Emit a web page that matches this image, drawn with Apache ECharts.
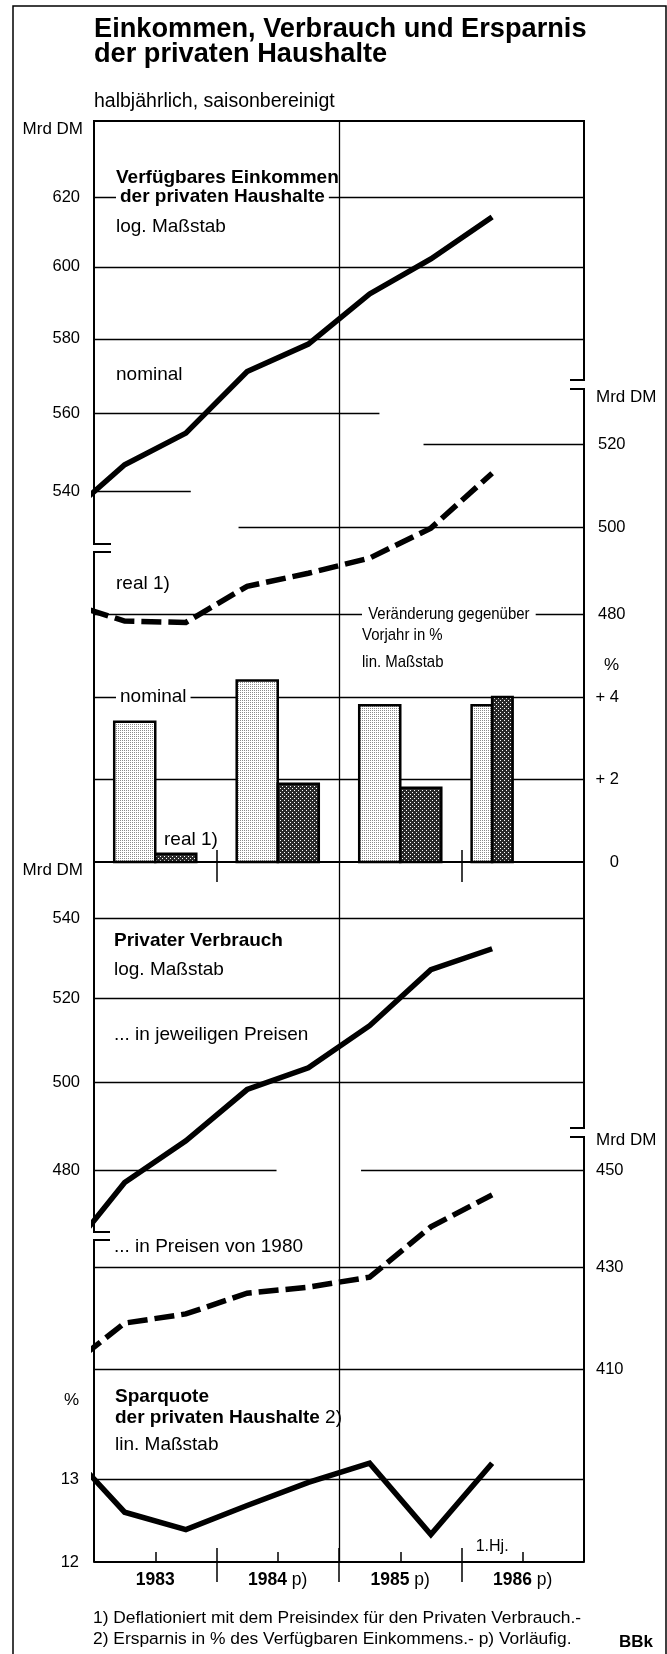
<!DOCTYPE html>
<html><head><meta charset="utf-8">
<script src="https://cdn.jsdelivr.net/npm/echarts@6/dist/echarts.min.js"></script>
<style>html,body{margin:0;padding:0;background:#fff}#chart{width:667px;height:1654px}</style>
</head><body><div id="chart"></div>
<script>
// ---------------- data ----------------
const halfYears = ['1982 2.Hj.','1983 1.Hj.','1983 2.Hj.','1984 1.Hj.','1984 2.Hj.','1985 1.Hj.','1985 2.Hj.','1986 1.Hj.'];
const halfYearPos = [1982.75,1983.25,1983.75,1984.25,1984.75,1985.25,1985.75,1986.25];
const incomeNominal = [533.0,546.7,554.9,571.2,578.6,592.4,602.2,614.2];
const incomeReal = [482.8,478.4,478.1,486.3,489.3,492.8,499.8,512.9];
const consumptionNominal = [460.5,477.2,486.6,498.4,503.5,513.5,527.1,532.3];
const consumptionReal = [409.6,418.9,420.7,424.8,426.0,428.0,438.2,444.8];
const savingRate = [13.4,12.6,12.39,12.68,12.96,13.19,12.33,13.19];

const changePeriods = ['1983','1984','1985','1986 1.Hj.'];
const changeStart = [1983,1984,1985,1986];
const changeEnd = [1984,1985,1986,1986.5];
const changeNominal = [3.4,4.4,3.8,3.8];
const changeReal = [0.2,1.9,1.8,4.0];

const yearLabels = ['1983','1984','1985','1986'];
const yearProvisional = [false,true,true,true];
const yearPos = [1983.5,1984.5,1985.5,1986.5];
const yearBounds = [1984,1985,1986];
const zeroLineTicks = [1984,1986];
const halfYearLabelPos = [1986.25];
const halfYearLabel = ['1.Hj.'];

const incNTicks = [540,560,580,600,620];
const incRTicks = [480,500,520];
const pctTicks = [0,2,4];
const conNTicks = [480,500,520,540];
const conRTicks = [410,430,450];
const sparTicks = [12,13];

// ---------------- layout ----------------
const FONT = '"Liberation Sans", Arial, Helvetica, sans-serif';
const GRID = {left: 94, right: 584, top: 121, bottom: 1562};
// pixel anchors of each panel's scale (two ticks each)
const ANCH = {
  incN: [620,197,540,491], incR: [520,444,480,614], pct: [4,697,0,862],
  conN: [540,918,480,1170], conR: [450,1170,410,1369], spar: [13,1479,12,1562]
};
// partial gridline extents (in years); others span the full width
const PARTIAL = {
  incN: {540:[1983,1983.79], 560:[1983,1985.33]},
  incR: {520:[1985.69,1987], 500:[1984.18,1987]},
  pct: {}, conN: {480:[1983,1984.49]}, conR: {450:[1985.18,1987]}, spar: {}
};

function logRange(a) {
  const [vA,pA,vB,pB] = a;
  const s = (Math.log(vA)-Math.log(vB))/(pB-pA);
  const at = p => Math.exp(Math.log(vA) - s*(p-pA));
  return {min: at(GRID.bottom), max: at(GRID.top)};
}
function linRange(a) {
  const [vA,pA,vB,pB] = a;
  const s = (vA-vB)/(pB-pA);
  const at = p => vA - s*(p-pA);
  return {min: at(GRID.bottom), max: at(GRID.top)};
}

function makePattern(size, bg, fg, cells) {
  const c = document.createElement('canvas'); c.width = size; c.height = size;
  const ctx = c.getContext('2d'); ctx.fillStyle = bg; ctx.fillRect(0,0,size,size);
  ctx.fillStyle = fg; cells.forEach(([x,y]) => ctx.fillRect(x,y,1,1));
  return {image: c, repeat: 'repeat'};
}
const patNominal = makePattern(2, '#ffffff', '#8a8a8a', [[0,0]]);
const patReal = makePattern(4, '#2a2a2a', '#ffffff', [[0,0],[2,2]]);

const chart = echarts.init(document.getElementById('chart'), null, {renderer: 'canvas'});

const tickLine = {color: '#000', width: 1.5};
const xBase = {type: 'value', min: 1983, max: 1987, position: 'bottom',
  splitLine: {show: false}, axisLine: {show: false, onZero: false},
  axisTick: {show: false}, axisLabel: {show: false}};

const xAxis = [
  Object.assign({}, xBase, {
    axisLine: {show: true, onZero: false, lineStyle: {color: '#000', width: 2}},
    axisTick: {show: true, inside: true, length: 10, customValues: yearPos, lineStyle: tickLine},
    axisLabel: {show: true, customValues: yearPos, margin: 9, color: '#000',
      formatter: v => { const i = yearPos.indexOf(v); return '{b|' + yearLabels[i] + '}' + (yearProvisional[i] ? '{n| p)}' : ''); },
      rich: {b: {fontFamily: FONT, fontSize: 17.5, fontWeight: 'bold', color: '#000'},
             n: {fontFamily: FONT, fontSize: 17.5, color: '#000'}}}
  }),
  Object.assign({}, xBase, {axisTick: {show: true, inside: true, length: 14, customValues: yearBounds, lineStyle: tickLine}}),
  Object.assign({}, xBase, {axisTick: {show: true, inside: false, length: 20, customValues: yearBounds, lineStyle: tickLine}}),
  Object.assign({}, xBase, {axisLabel: {show: true, inside: true, margin: 7, customValues: halfYearLabelPos,
    formatter: v => halfYearLabel[halfYearLabelPos.indexOf(v)], fontFamily: FONT, fontSize: 16, color: '#000'}}),
  Object.assign({}, xBase, {axisLine: {show: true, onZero: true, onZeroAxisIndex: 2, lineStyle: {color: '#000', width: 2}},
    axisTick: {show: true, inside: true, length: 12, customValues: zeroLineTicks, lineStyle: tickLine}}),
  Object.assign({}, xBase, {axisLine: {show: false, onZero: true, onZeroAxisIndex: 2},
    axisTick: {show: true, inside: false, length: 20, customValues: zeroLineTicks, lineStyle: tickLine}})
];

function yAx(type, range, position, ticks, margin, align, fmt) {
  const ax = {type: type, min: range.min, max: range.max, position: position,
    axisLine: {show: false, onZero: false}, axisTick: {show: false}, splitLine: {show: false},
    axisLabel: {show: true, customValues: ticks, margin: margin, color: '#000', fontFamily: FONT, fontSize: 16.5,
      formatter: fmt || (v => String(Math.round(v)))}};
  if (align) ax.axisLabel.align = align;
  if (type === 'log') ax.logBase = 10;
  return ax;
}
const yAxis = [
  yAx('log', logRange(ANCH.incN), 'left', incNTicks, 14),
  yAx('log', logRange(ANCH.incR), 'right', incRTicks, 14),
  yAx('value', linRange(ANCH.pct), 'right', pctTicks, 35, 'right', v => v > 0 ? '+ ' + v : String(v)),
  yAx('log', logRange(ANCH.conN), 'left', conNTicks, 14),
  yAx('log', logRange(ANCH.conR), 'right', conRTicks, 12),
  yAx('value', linRange(ANCH.spar), 'left', sparTicks, 15)
];

const gl = {color: '#000', width: 1.3, type: 'solid'};
function gridSeries(yIdx, ticks, partial, extra) {
  const data = ticks.filter(v => !(extra && extra.skip && extra.skip.includes(v))).map(v => {
    const ext = partial[v] || [1983, 1987];
    return [{coord: [ext[0], v]}, {coord: [ext[1], v]}];
  });
  if (extra && extra.vertical) data.push({xAxis: extra.vertical});
  return {type: 'line', xAxisIndex: 0, yAxisIndex: yIdx, data: [], silent: true, z: 1,
    markLine: {silent: true, symbol: 'none', label: {show: false}, lineStyle: gl, z: 1,
      emphasis: {disabled: true}, animation: false, data: data}};
}
const pairs = vals => halfYearPos.map((x, i) => [x, vals[i]]);
function lineSeries(name, yIdx, vals, dashed) {
  return {type: 'line', name: name, xAxisIndex: 0, yAxisIndex: yIdx, data: pairs(vals),
    showSymbol: false, symbol: 'none', clip: true, z: 4, silent: true,
    lineStyle: {color: '#000', width: 5.5, type: dashed ? [20, 7] : 'solid', cap: 'butt', join: 'miter'}};
}
function barSeries(name, vals, side, pattern) {
  return {type: 'custom', name: name, xAxisIndex: 0, yAxisIndex: 2, z: 10, silent: true,
    data: changeStart.map((s, i) => [s, changeEnd[i], vals[i]]),
    encode: {x: [0, 1], y: 2},
    renderItem: function (params, api) {
      const s = api.value(0), e = api.value(1), v = api.value(2);
      const p0 = api.coord([s, 0]), p1 = api.coord([e, v]);
      const w = p1[0] - p0[0], c = (p0[0] + p1[0]) / 2, bw = w * 0.335;
      return {type: 'rect', shape: {x: side < 0 ? c - bw : c, y: p1[1], width: bw, height: p0[1] - p1[1]},
        style: {fill: pattern, stroke: '#000', lineWidth: 2.5}};
    }};
}

const series = [
  gridSeries(0, incNTicks, PARTIAL.incN, {vertical: 1985}),
  gridSeries(1, incRTicks, PARTIAL.incR),
  gridSeries(2, pctTicks, PARTIAL.pct, {skip: [0]}),
  gridSeries(3, conNTicks, PARTIAL.conN),
  gridSeries(4, conRTicks, PARTIAL.conR),
  gridSeries(5, sparTicks, PARTIAL.spar, {skip: [12]}),
  lineSeries('Verfügbares Einkommen nominal', 0, incomeNominal, false),
  lineSeries('Verfügbares Einkommen real', 1, incomeReal, true),
  barSeries('Veränderung nominal', changeNominal, -1, patNominal),
  barSeries('Veränderung real', changeReal, 1, patReal),
  lineSeries('Privater Verbrauch in jeweiligen Preisen', 3, consumptionNominal, false),
  lineSeries('Privater Verbrauch in Preisen von 1980', 4, consumptionReal, true),
  lineSeries('Sparquote', 5, savingRate, false)
];

// ---------------- decorations ----------------
function txt(text, x, y, size, opts) {
  opts = opts || {};
  const st = {text: text, x: 0, y: 0, fill: '#000',
    font: (opts.bold ? 'bold ' : '') + size + 'px ' + FONT,
    align: opts.align || 'left', textAlign: opts.align || 'left',
    verticalAlign: 'middle', textVerticalAlign: 'middle'};
  if (opts.bg) { st.backgroundColor = '#fff'; st.padding = opts.pad || [0, 4]; }
  if (opts.rich) st.rich = opts.rich;
  return {type: 'text', x: x, y: y, scaleX: opts.sx || 1, z: 100, silent: true, style: st};
}
function pl(points, w) {
  return {type: 'polyline', z: 90, silent: true, shape: {points: points},
    style: {stroke: '#000', lineWidth: w || 2, fill: null}};
}
const L = GRID.left, R = GRID.right, T = GRID.top, B = GRID.bottom;
const graphic = [
  pl([[13, 1660], [13, 6], [666, 6], [666, 1660]], 1.5),
  pl([[L + 17, 544], [L, 544], [L, T], [R, T], [R, 380], [R - 14, 380]]),
  pl([[L + 17, 552], [L, 552], [L, 1232], [L + 16, 1232]]),
  pl([[L + 16, 1240], [L, 1240], [L, B]]),
  pl([[R - 14, 389], [R, 389], [R, 1128], [R - 14, 1128]]),
  pl([[R - 14, 1137], [R, 1137], [R, B]]),
  txt('Einkommen, Verbrauch und Ersparnis', 94, 29.5, 27.2, {bold: true}),
  txt('der privaten Haushalte', 94, 55, 27.2, {bold: true}),
  txt('halbjährlich, saisonbereinigt', 94, 102, 19.5),
  txt('Mrd DM', 83, 129, 17, {align: 'right'}),
  txt('Verfügbares Einkommen', 116, 178, 19, {bold: true}),
  txt('der privaten Haushalte', 116, 197, 19, {bold: true, bg: true, pad: [0, 4]}),
  txt('log. Maßstab', 116, 227, 19),
  txt('nominal', 116, 375, 19),
  txt('Mrd DM', 596, 397, 17),
  txt('real 1)', 116, 584, 19),
  txt('Veränderung gegenüber', 362, 614, 17, {sx: 0.88, bg: true, pad: [0, 7]}),
  txt('Vorjahr in %', 362, 635, 17, {sx: 0.88}),
  txt('lin. Maßstab', 362, 662, 17, {sx: 0.88}),
  txt('%', 604, 665, 17),
  txt('nominal', 116, 697, 19, {bg: true, pad: [0, 4]}),
  txt('real 1)', 164, 840, 19),
  txt('Mrd DM', 83, 870, 17, {align: 'right'}),
  txt('Privater Verbrauch', 114, 941, 19, {bold: true}),
  txt('log. Maßstab', 114, 970, 19),
  txt('... in jeweiligen Preisen', 114, 1035, 19),
  txt('Mrd DM', 596, 1140, 17),
  txt('... in Preisen von 1980', 114, 1247, 19),
  txt('%', 79, 1400, 17, {align: 'right'}),
  txt('Sparquote', 115, 1397, 19, {bold: true}),
  txt('{b|der privaten Haushalte} {n|2)}', 115, 1418, 19, {rich: {
    b: {fontFamily: FONT, fontSize: 19, fontWeight: 'bold', fill: '#000', color: '#000'},
    n: {fontFamily: FONT, fontSize: 19, fill: '#000', color: '#000'}}}),
  txt('lin. Maßstab', 115, 1445, 19),
  txt('1) Deflationiert mit dem Preisindex für den Privaten Verbrauch.-', 93, 1618, 17.4),
  txt('2) Ersparnis in % des Verfügbaren Einkommens.- p) Vorläufig.', 93, 1639, 17.4),
  txt('BBk', 619, 1642, 17, {bold: true})
];

chart.setOption({
  animation: false,
  backgroundColor: '#fff',
  textStyle: {fontFamily: FONT},
  grid: {left: GRID.left, right: 667 - GRID.right, top: GRID.top, bottom: 1654 - GRID.bottom, containLabel: false, show: false},
  xAxis: xAxis,
  yAxis: yAxis,
  series: series,
  graphic: graphic
});
</script></body></html>
